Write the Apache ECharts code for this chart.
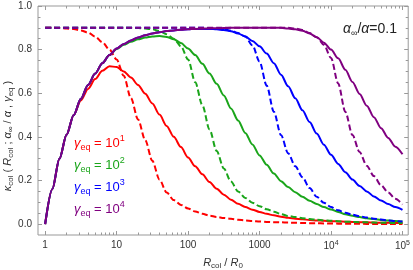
<!DOCTYPE html>
<html><head><meta charset="utf-8">
<script src="https://cdn.jsdelivr.net/npm/echarts@6/dist/echarts.min.js"></script>
<style>html,body{margin:0;padding:0;background:#fff}#c{width:413px;height:270px}</style>
</head><body><div id="c"></div><script>
// x values: log10(R_col / R_0)
const logR = [0,0.1,0.2,0.3,0.4,0.5,0.6,0.7,0.8,0.9,1.0,1.1,1.2,1.3,1.4,1.5,1.6,1.7,1.8,1.9,2.0,2.1,2.2,2.3,2.4,2.5,2.6,2.7,2.8,2.9,3.0,3.1,3.2,3.3,3.4,3.5,3.6,3.7,3.8,3.9,4.0,4.1,4.2,4.3,4.4,4.5,4.6,4.7,4.8,4.9,5.0];

const redSolid = [0,0.16,0.30,0.41,0.50,0.567,0.62,0.665,0.703,0.724,0.72,0.70,0.672,0.638,0.598,0.553,0.502,0.45,0.40,0.353,0.305,0.265,0.228,0.193,0.162,0.135,0.112,0.093,0.078,0.066,0.056,0.047,0.04,0.034,0.029,0.025,0.022,0.019,0.017,0.015,0.013,0.012,0.011,0.01,0.009,0.008,0.007,0.006,0.006,0.005,0.005];
const redDashed = [0.9,0.9,0.899,0.897,0.894,0.888,0.878,0.86,0.834,0.80,0.755,0.68,0.578,0.48,0.385,0.29,0.204,0.145,0.11,0.088,0.072,0.058,0.047,0.039,0.033,0.028,0.024,0.02,0.017,0.014,0.012,0.01,0.009,0.008,0.007,0.006,0.005,0.004,0.004,0.003,0.003,0.002,0.002,0.002,0.002,0.001,0.001,0.001,0.001,0.001,0.001];
const greenSolid = [0,0.16,0.30,0.41,0.50,0.575,0.638,0.69,0.738,0.775,0.803,0.822,0.836,0.847,0.855,0.86,0.862,0.858,0.848,0.83,0.805,0.775,0.735,0.69,0.643,0.59,0.53,0.475,0.418,0.365,0.315,0.272,0.232,0.197,0.17,0.146,0.125,0.107,0.092,0.078,0.067,0.056,0.045,0.038,0.032,0.027,0.023,0.019,0.016,0.014,0.012];
const greenDashed = [0.9,0.9,0.9,0.9,0.9,0.9,0.9,0.9,0.9,0.9,0.9,0.9,0.9,0.899,0.897,0.893,0.885,0.87,0.85,0.815,0.755,0.65,0.545,0.434,0.335,0.255,0.195,0.15,0.12,0.098,0.082,0.068,0.057,0.046,0.037,0.032,0.027,0.023,0.02,0.017,0.015,0.013,0.011,0.01,0.009,0.008,0.007,0.006,0.006,0.005,0.005];
const blueSolid = [0,0.16,0.30,0.41,0.50,0.575,0.638,0.69,0.738,0.775,0.805,0.826,0.842,0.856,0.866,0.874,0.88,0.885,0.888,0.891,0.893,0.895,0.895,0.895,0.893,0.89,0.884,0.874,0.86,0.84,0.815,0.782,0.738,0.685,0.632,0.577,0.522,0.468,0.415,0.364,0.318,0.276,0.238,0.204,0.175,0.15,0.127,0.108,0.092,0.078,0.065];
const blueDashed = [0.9,0.9,0.9,0.9,0.9,0.9,0.9,0.9,0.9,0.9,0.9,0.9,0.9,0.9,0.9,0.9,0.9,0.9,0.9,0.9,0.9,0.9,0.9,0.899,0.897,0.893,0.887,0.876,0.86,0.82,0.745,0.635,0.515,0.408,0.325,0.265,0.215,0.165,0.125,0.098,0.078,0.063,0.052,0.043,0.036,0.03,0.025,0.021,0.017,0.014,0.012];
const purpleSolid = [0,0.16,0.30,0.41,0.50,0.575,0.638,0.69,0.738,0.775,0.805,0.826,0.842,0.856,0.866,0.874,0.88,0.885,0.888,0.891,0.893,0.895,0.896,0.897,0.898,0.899,0.9,0.9,0.9,0.9,0.9,0.9,0.9,0.9,0.897,0.893,0.886,0.874,0.857,0.832,0.80,0.76,0.708,0.652,0.597,0.543,0.49,0.44,0.395,0.355,0.32];
const purpleDashed = [0.9,0.9,0.9,0.9,0.9,0.9,0.9,0.9,0.9,0.9,0.9,0.9,0.9,0.9,0.9,0.9,0.9,0.9,0.9,0.9,0.9,0.9,0.9,0.9,0.9,0.9,0.9,0.9,0.9,0.9,0.9,0.9,0.9,0.9,0.9,0.897,0.89,0.876,0.857,0.822,0.762,0.645,0.515,0.408,0.33,0.268,0.22,0.178,0.145,0.116,0.09];

const xTickLabels = ['1','10','100','1000','10{sup|4}','10{sup|5}'];
const yTickLabels = ['0.0','0.2','0.4','0.6','0.8','1.0'];
const legendLabels = ['1','2','3','4'];
const colors = ['#ff0000','#1aa51a','#0000ff','#800080'];

const FONT = 'Liberation Sans, Arial, sans-serif';
const majorX = [0,1,2,3,4,5];
const minorX = [];
for (let d = 0; d < 5; d++) for (let k = 2; k <= 9; k++) minorX.push(d + Math.log10(k));
const majorY = [0,0.2,0.4,0.6,0.8,1.0];
const minorY = [];
for (let i = 1; i < 20; i++) if (i % 4 !== 0) minorY.push(i * 0.05);

const tickColor = '#999';
function xAx(pos, vals, len, labels) {
  return {type:'value', min:-0.1, max:5.08, position:pos, axisLine:{show:false, onZero:false}, splitLine:{show:false},
    axisTick:{show:true, inside:true, length:len, customValues:vals, lineStyle:{color:tickColor, width:1}},
    axisLabel: labels ? {show:true, customValues:vals, margin:5, fontSize:10, color:'#333', fontFamily:FONT,
      formatter: v => xTickLabels[Math.round(v)],
      rich:{sup:{fontSize:7, fontFamily:FONT, color:'#333', padding:[0,0,6,0]}}} : {show:false}};
}
function yAx(pos, vals, len, labels) {
  return {type:'value', min:-0.05, max:1.0, position:pos, axisLine:{show:false, onZero:false}, splitLine:{show:false},
    axisTick:{show:true, inside:true, length:len, customValues:vals, lineStyle:{color:tickColor, width:1}},
    axisLabel: labels ? {show:true, customValues:vals, margin:6, fontSize:10, color:'#333', fontFamily:FONT,
      formatter: v => yTickLabels[Math.round(v*5)]} : {show:false}};
}

function mk(arr, color, dashed) {
  return {type:'line', xAxisIndex:0, yAxisIndex:0, data: logR.map((x,i)=>[x, arr[i]]), showSymbol:false,
    smooth:0.3, smoothMonotone:'x', silent:true,
    lineStyle:{color:color, width:2, type: dashed ? [6,3] : 'solid'}, itemStyle:{color:color}};
}

const rich = {
  i:{fontStyle:'italic', fontFamily:FONT, fontSize:13, lineHeight:18, verticalAlign:'middle'},
  n:{fontFamily:FONT, fontSize:13, lineHeight:18, verticalAlign:'middle'},
  sub:{fontFamily:FONT, fontSize:9, lineHeight:9, verticalAlign:'bottom'},
  sup:{fontFamily:FONT, fontSize:9, lineHeight:9, verticalAlign:'top'}
};
const richS = {
  i:{fontStyle:'italic', fontFamily:FONT, fontSize:11, lineHeight:14, verticalAlign:'middle', fill:'#333'},
  n:{fontFamily:FONT, fontSize:11, lineHeight:14, verticalAlign:'middle', fill:'#333'},
  sub:{fontFamily:FONT, fontSize:8, lineHeight:8, verticalAlign:'bottom', fill:'#333'}
};

const graphic = [];
legendLabels.forEach((p, k) => {
  graphic.push({type:'text', x:74, y:143 + k*22, silent:true,
    style:{text:'{i|γ}{sub|eq}{n| = 10}{sup|' + p + '}', fill:colors[k], align:'left', verticalAlign:'middle',
      rich: JSON.parse(JSON.stringify(rich))}});
});
graphic.push({type:'text', x:343, y:29, silent:true,
  style:{text:'{i|α}{sub|∞}{n|/}{i|α}{n|=0.1}', fill:'#222', align:'left', verticalAlign:'middle', rich:{
    i:{fontStyle:'italic', fontFamily:FONT, fontSize:14, lineHeight:18, verticalAlign:'middle', fill:'#222'},
    n:{fontFamily:FONT, fontSize:14, lineHeight:18, verticalAlign:'middle', fill:'#222'},
    sub:{fontFamily:FONT, fontSize:9, lineHeight:9, verticalAlign:'bottom', fill:'#222'}}}});
graphic.push({type:'text', x:223, y:263, silent:true,
  style:{text:'{i|R}{sub|col}{n| / }{i|R}{sub|0}', align:'center', verticalAlign:'middle', rich:richS}});
graphic.push({type:'text', x:8, y:136, rotation:Math.PI/2, silent:true,
  style:{text:'{i|κ}{sub|col}{n| ( }{i|R}{sub|col}{n| ; }{i|α}{sub|∞}{n| / }{i|α}{n| , }{i|γ}{sub|eq}{n| )}',
    align:'center', verticalAlign:'middle', rich:richS}});

const chart = echarts.init(document.getElementById('c'), null, {renderer:'canvas'});
chart.setOption({
  animation:false,
  backgroundColor:'#fff',
  grid:{left:38, right:4, top:6, bottom:35, show:true, borderColor:'#999', borderWidth:1, backgroundColor:'transparent'},
  xAxis:[xAx('bottom', majorX, 4, true), xAx('bottom', minorX, 2.5, false), xAx('top', majorX, 4, false), xAx('top', minorX, 2.5, false)],
  yAxis:[yAx('left', majorY, 4, true), yAx('left', minorY, 2.5, false), yAx('right', majorY, 4, false), yAx('right', minorY, 2.5, false)],
  series:[
    mk(redSolid, colors[0], false), mk(redDashed, colors[0], true),
    mk(greenSolid, colors[1], false), mk(greenDashed, colors[1], true),
    mk(blueSolid, colors[2], false), mk(blueDashed, colors[2], true),
    mk(purpleSolid, colors[3], false), mk(purpleDashed, colors[3], true)
  ],
  graphic: graphic
});
</script></body></html>
